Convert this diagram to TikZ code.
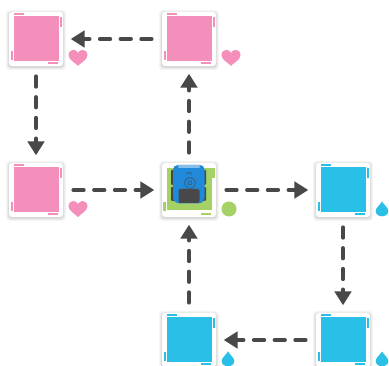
\documentclass[tikz,border=0pt]{standalone}
\usetikzlibrary{arrows.meta}
\definecolor{pinkc}{HTML}{F48FBB}
\definecolor{bluec}{HTML}{29BFE6}
\definecolor{greenc}{HTML}{A5D165}
\definecolor{robotb}{HTML}{2089DA}
\definecolor{darkc}{HTML}{484848}
\tikzset{
  tilebox/.style={draw=none,fill=white,rounded corners=3pt,minimum width=54pt,minimum height=54pt,inner sep=0pt},
  halo/.style={fill=black,opacity=.04},
  flow/.style={draw=darkc,line width=4pt,dash pattern=on 10.3pt off 10.4pt,line cap=round,shorten <=10.2pt,shorten >=7.5pt,
    -{Triangle[width=16.5pt,length=14pt]}},
}
\newcommand{\tileat}[4]{%
  \begin{scope}[shift={(#2,#3)}]
    \foreach \r in {0.5,1.2,2,3}{
      \fill[halo,rounded corners=3.5pt] (-27-\r,-27-\r+1) rectangle (27+\r,27+\r+1);}
  \end{scope}
  \node[tilebox] (#1) at (#2,#3) {};
  \begin{scope}[shift={(#2,#3)}]
    \fill[#4] (-22,-23) rectangle (23,22);
    \fill[#4] (-22,-26) rectangle (-12,-24);
    \fill[#4] (23.5,-22) rectangle (25.5,-12);
    \fill[#4] (-25.5,12) rectangle (-23.5,21);
    \fill[#4] (12,23) rectangle (22,25);
  \end{scope}}
\newcommand{\heartat}[2]{%
  \fill[pinkc,shift={(#1,#2)}] (0,8) .. controls (-2,5.5) and (-9.5,2) .. (-9.5,-2.5)
    .. controls (-9.5,-6) and (-7,-8) .. (-4.7,-8)
    .. controls (-2.5,-8) and (-1,-6.5) .. (0,-5)
    .. controls (1,-6.5) and (2.5,-8) .. (4.7,-8)
    .. controls (7,-8) and (9.5,-6) .. (9.5,-2.5)
    .. controls (9.5,2) and (2,5.5) .. (0,8) -- cycle;}
\newcommand{\dropat}[2]{%
  \fill[bluec,shift={(#1,#2)}] (0,-7.5) .. controls (1.5,-4.5) and (6.3,-1.5) .. (6.3,2)
    .. controls (6.3,5.2) and (3.5,7.3) .. (0,7.3)
    .. controls (-3.5,7.3) and (-6.3,5.2) .. (-6.3,2)
    .. controls (-6.3,-1.5) and (-1.5,-4.5) .. (0,-7.5) -- cycle;}
\begin{document}
\begin{tikzpicture}[x=1pt,y=-1pt]
\useasboundingbox (0,0) rectangle (389,366);
\fill[white] (0,0) rectangle (389,366);
\tileat{a}{36}{39}{pinkc}
\tileat{b}{189}{39}{pinkc}
\tileat{c}{36}{190}{pinkc}
\tileat{m}{189}{190}{white}
\tileat{d}{343}{190}{bluec}
\tileat{e}{189}{340}{bluec}
\tileat{f}{343}{340}{bluec}
% centre tile
\fill[greenc] (167,168) rectangle (211.5,210.5);
\fill[greenc] (212,168) rectangle (214.5,178);
\fill[greenc] (163,202) rectangle (165.5,211);
\fill[greenc] (201,213) rectangle (211,215);
% robot
\fill[darkc,rounded corners=1pt] (171,170) rectangle (175,185);
\fill[darkc,rounded corners=1pt] (202,170) rectangle (206,185);
\fill[darkc,rounded corners=1pt] (171,187) rectangle (175,201);
\fill[darkc,rounded corners=1pt] (202,187) rectangle (206,201);
\fill[robotb,rounded corners=2.5pt] (173,168) -- (176,165) -- (202,165) -- (204.5,168) -- (204.5,200) -- (201,203.5) -- (177,203.5) -- (173,200) -- cycle;
\fill[robotb!55!white,rounded corners=1pt] (178,165) rectangle (200,168);
\fill[darkc,rounded corners=2pt] (178.5,189) rectangle (199.5,203);
\draw[darkc!65!robotb,line width=.8pt] (190,183) circle (5.5);
\draw[darkc!65!robotb,line width=.7pt] (190,183) circle (2);
\draw[darkc!65!robotb,line width=.9pt] (186.5,174) arc[start angle=-150,end angle=-30,radius=3];
% markers
\heartat{78}{57.8}
\heartat{231}{57.8}
\heartat{78}{209}
\fill[greenc] (229,209) circle (7.5);
\dropat{382}{359}
\dropat{228}{359}
\dropat{382}{209}
% connectors
\draw[flow] (b.west) -- (a.east);
\draw[flow] (a.south) -- (c.north);
\draw[flow] (c.east) -- (m.west);
\draw[flow] (m.north) -- (b.south);
\draw[flow] (m.east) -- (d.west);
\draw[flow] (d.south) -- (f.north);
\draw[flow] (f.west) -- (e.east);
\draw[flow] (e.north) -- (m.south);
\end{tikzpicture}
\end{document}
